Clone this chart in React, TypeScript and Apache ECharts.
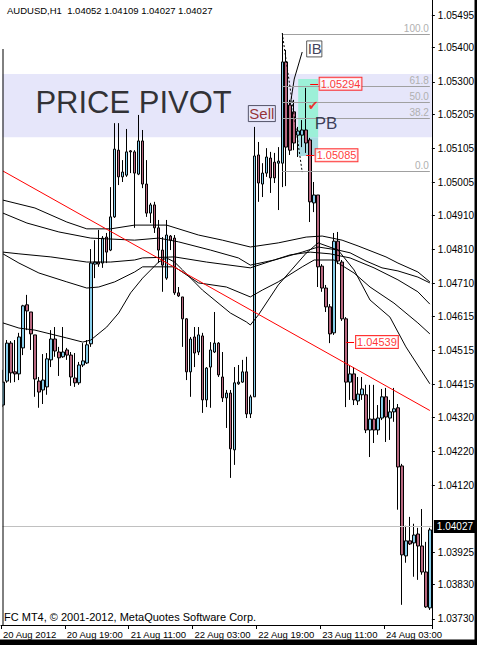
import React, { useEffect, useRef } from "react";
import * as echarts from "echarts";

const FONT = "'Liberation Sans', Arial, sans-serif";

const headerText = "AUDUSD,H1  1.04052 1.04109 1.04027 1.04027";
const footerText = "FC MT4, \u00A9 2001-2012, MetaQuotes Software Corp.";

const opens = [
  1.04355, 1.04425, 1.04536, 1.04452, 1.04446, 1.04522, 1.04648, 1.04627, 1.0456, 1.04425,
  1.04399, 1.04408, 1.04487, 1.04548, 1.0451, 1.04496, 1.04516, 1.04501, 1.04434, 1.0442,
  1.04472, 1.04478, 1.04534, 1.04767, 1.04773, 1.0477, 1.04846, 1.04808, 1.04905, 1.051,
  1.05022, 1.05027, 1.05098, 1.05095, 1.0503, 1.05127, 1.05001, 1.04916, 1.0494, 1.04873,
  1.04808, 1.04726, 1.04849, 1.04843, 1.04683, 1.04671, 1.04607, 1.04452, 1.04554, 1.0451,
  1.04557, 1.0437, 1.04466, 1.0451, 1.04536, 1.04437, 1.04376, 1.0439, 1.04224, 1.04417,
  1.04422, 1.04452, 1.04329, 1.04379, 1.05086, 1.05001, 1.05033, 1.05077, 1.05065, 1.05062,
  1.05062, 1.05358, 1.05232, 1.05212, 1.05144, 1.05144, 1.05159, 1.0513, 1.04946, 1.04969,
  1.04761, 1.04697, 1.04642, 1.04566, 1.04834, 1.04773, 1.04607, 1.04422, 1.04446, 1.04367,
  1.04385, 1.04385, 1.04282, 1.04314, 1.04282, 1.04317, 1.04379, 1.04317, 1.04335, 1.04347,
  1.04177, 1.03914, 1.03958, 1.03952, 1.03978, 1.03943, 1.03867, 1.03762,
];
const closes = [
  1.04422, 1.04536, 1.04449, 1.04446, 1.04554, 1.04645, 1.0463, 1.04563, 1.04431, 1.04393,
  1.04428, 1.0449, 1.04548, 1.04513, 1.04493, 1.0451, 1.04501, 1.04437, 1.0442, 1.04472,
  1.04484, 1.04531, 1.0477, 1.04773, 1.04767, 1.04843, 1.04802, 1.04905, 1.05103, 1.05022,
  1.05036, 1.05095, 1.05095, 1.05033, 1.05127, 1.05001, 1.04916, 1.0494, 1.04873, 1.04808,
  1.04764, 1.04852, 1.04837, 1.04683, 1.04674, 1.04607, 1.04452, 1.04548, 1.04507, 1.0456,
  1.0437, 1.04463, 1.04516, 1.04536, 1.04443, 1.04376, 1.0439, 1.04227, 1.0442, 1.04422,
  1.04452, 1.04329, 1.04379, 1.05083, 1.05004, 1.05033, 1.0508, 1.05019, 1.05019, 1.05068,
  1.05358, 1.05109, 1.051, 1.05121, 1.05156, 1.05159, 1.05121, 1.04949, 1.04969, 1.04759,
  1.04697, 1.04642, 1.04563, 1.04834, 1.04776, 1.04607, 1.04422, 1.04446, 1.0437, 1.04387,
  1.04402, 1.04282, 1.04314, 1.04282, 1.04317, 1.04379, 1.0432, 1.04335, 1.04344, 1.04174,
  1.03917, 1.03958, 1.03949, 1.03975, 1.03943, 1.03867, 1.03765, 1.0399,
];
const lows = [
  1.04349, 1.0442, 1.0442, 1.04422, 1.04428, 1.04501, 1.04574, 1.04516, 1.04379, 1.04347,
  1.04358, 1.04385, 1.04466, 1.04496, 1.0444, 1.04493, 1.04487, 1.04411, 1.04408, 1.04414,
  1.04466, 1.04475, 1.04525, 1.04726, 1.04759, 1.04756, 1.0477, 1.04805, 1.04902, 1.04998,
  1.05007, 1.05022, 1.05033, 1.04873, 1.05027, 1.04989, 1.04905, 1.04887, 1.04858, 1.0477,
  1.04686, 1.04721, 1.04808, 1.04677, 1.04671, 1.04525, 1.04428, 1.04379, 1.04466, 1.04501,
  1.04332, 1.04349, 1.04347, 1.04507, 1.04437, 1.04364, 1.04288, 1.04142, 1.0418, 1.04414,
  1.0442, 1.04317, 1.04317, 1.04379, 1.04949, 1.04963, 1.05022, 1.04975, 1.05004, 1.04925,
  1.04992, 1.04995, 1.05086, 1.051, 1.0508, 1.05109, 1.05092, 1.0489, 1.04919, 1.047,
  1.04686, 1.04627, 1.04536, 1.0456, 1.04767, 1.04601, 1.04349, 1.0437, 1.04355, 1.04355,
  1.0437, 1.04273, 1.04203, 1.04244, 1.04268, 1.04311, 1.04247, 1.04253, 1.04306, 1.04049,
  1.03771, 1.03894, 1.03946, 1.03853, 1.03844, 1.03859, 1.03762, 1.03756,
];
const highs = [
  1.04458, 1.04545, 1.04542, 1.04545, 1.04566, 1.04648, 1.04677, 1.04627, 1.0456, 1.04437,
  1.04504, 1.04507, 1.04574, 1.04583, 1.04525, 1.04583, 1.04522, 1.0451, 1.04507, 1.04481,
  1.04536, 1.04545, 1.04811, 1.04837, 1.04867, 1.04849, 1.04858, 1.04992, 1.05179, 1.05179,
  1.05071, 1.05162, 1.051, 1.051, 1.05203, 1.05159, 1.05071, 1.04946, 1.04949, 1.04896,
  1.04846, 1.04896, 1.04852, 1.04852, 1.047, 1.04671, 1.04609, 1.04554, 1.04583, 1.04583,
  1.04566, 1.04466, 1.04539, 1.04627, 1.04539, 1.0451, 1.04399, 1.04399, 1.04466, 1.04472,
  1.04487, 1.04496, 1.04385, 1.05168, 1.05124, 1.05062, 1.05106, 1.05095, 1.05092, 1.05109,
  1.05442, 1.05393, 1.05247, 1.05247, 1.05168, 1.05188, 1.05282, 1.05136, 1.05007, 1.04969,
  1.04767, 1.04706, 1.0465, 1.04858, 1.04861, 1.04779, 1.04612, 1.04472, 1.04466, 1.04437,
  1.04437, 1.04414, 1.04414, 1.04414, 1.04355, 1.04402, 1.04405, 1.0437, 1.04405, 1.04358,
  1.04183, 1.04002, 1.04028, 1.04008, 1.03996, 1.04051, 1.03955, 1.03996,
];

// Moving averages: [bar index, price] read at sampled bars
const ma1 = [[0,1.04954],[8,1.04931],[16,1.0489],[21,1.0487],[27,1.0487],[33,1.04881],[41,1.04881],[49,1.04852],[55,1.04837],[62,1.04817],[69,1.04829],[76,1.04846],[80,1.04849],[85,1.04837],[89,1.0482],[96,1.04788],[99,1.0477],[104,1.04744],[107,1.04715]];
const ma2 = [[0,1.04916],[6,1.04887],[14,1.04861],[22,1.04843],[33,1.04837],[39,1.04843],[44,1.04832],[52,1.04808],[59,1.04785],[62,1.04764],[68,1.04779],[75,1.04802],[79,1.04817],[84,1.04808],[87,1.048],[91,1.04776],[95,1.04756],[99,1.04747],[104,1.04729],[107,1.04712]];
const ma3 = [[0,1.04802],[4,1.04797],[12,1.04788],[21,1.04773],[27,1.04773],[33,1.04779],[35,1.04785],[43,1.04788],[51,1.04773],[62,1.04756],[68,1.04779],[72,1.04794],[77,1.04802],[82,1.04797],[87,1.04785],[93,1.04756],[99,1.04721],[104,1.04686],[107,1.0465]];
const ma4 = [[0,1.04797],[4,1.0477],[9,1.04741],[16,1.04715],[21,1.04697],[24,1.047],[28,1.04715],[33,1.04744],[35,1.04759],[43,1.04759],[49,1.04712],[56,1.047],[62,1.04671],[65,1.04691],[69,1.04715],[75,1.04759],[78,1.04779],[83,1.04779],[84,1.0477],[88,1.04741],[92,1.047],[98,1.04653],[104,1.04595],[107,1.04563]];
const ma5 = [[0,1.04595],[4,1.0458],[8,1.04574],[16,1.04551],[20,1.04539],[22,1.04545],[26,1.04583],[29,1.04624],[32,1.04683],[35,1.04726],[39,1.04773],[41,1.04785],[43,1.04773],[45,1.0475],[50,1.04691],[57,1.04624],[61,1.04598],[62,1.04589],[64,1.04618],[69,1.04706],[76,1.04799],[79,1.04829],[84,1.04808],[88,1.0475],[92,1.04662],[97,1.04612],[101,1.04525],[107,1.04417]];

const trendLine = [[0, 1.05039], [107, 1.04339]];
const zigzag = [[72, 1.05232], [73, 1.05308], [75, 1.05387]];

const pivotBand = [1.05323, 1.05138];
const pbZoneTop = [74, 1.05308, 79, 1.05138];
const pbZoneBottom = [74, 1.05138, 79, 1.05083];

const fibStart = 70;
const fibLabels = ["100.0", "61.8", "50.0", "38.2", "0.0"];
const fibValues = [1.05439, 1.05286, 1.05239, 1.05192, 1.05039];
const fibDiagonal = [[70, 1.05442], [75, 1.05036]];

const priceMarks = [1.05294, 1.05085, 1.04539];
const priceMarkStart = [77, 76, 86];
const priceMarkEnd = [79, 78, 88];

const currentPrice = 1.04027;

const priceTicks = [
  1.05495, 1.054, 1.053, 1.05205, 1.05105, 1.05005, 1.0491, 1.0481, 1.0471,
  1.04615, 1.04515, 1.04415, 1.0432, 1.0422, 1.0412, 1.03925, 1.0383, 1.0373,
];
const timeTickIndex = [0, 16, 32, 48, 64, 80, 96];
const timeTickLabels = [
  "20 Aug 2012", "20 Aug 19:00", "21 Aug 11:00", "22 Aug 03:00",
  "22 Aug 19:00", "23 Aug 11:00", "24 Aug 03:00",
];

const categories = opens.map((_, i) => {
  const d = new Date(Date.UTC(2012, 7, 20, 3 + i));
  return `${d.getUTCDate()} Aug ${String(d.getUTCHours()).padStart(2, "0")}:00`;
});

function buildOption() {
  const candleData = opens.map((o, i) => [o, closes[i], lows[i], highs[i]]);
  const maLine = (data: number[][]) => ({
    type: "line",
    data,
    symbol: "none",
    silent: true,
    z: 3,
    lineStyle: { color: "#000", width: 1 },
  });

  const markLineData: any[] = [
    {
      yAxis: currentPrice,
      lineStyle: { color: "#c0c0c0", width: 1, type: "solid" },
      label: {
        show: true,
        position: "end",
        distance: 2,
        formatter: currentPrice.toFixed(5),
        color: "#fff",
        backgroundColor: "#000",
        padding: [2, 3, 1, 3],
        fontSize: 10,
        fontFamily: FONT,
      },
    },
  ];
  fibValues.forEach((v, i) => {
    markLineData.push([
      {
        coord: [fibStart, v],
        lineStyle: { color: "#a0a0a0", width: 1, type: "solid" },
        label: {
          show: true,
          position: "insideEndTop",
          distance: 1,
          formatter: fibLabels[i],
          color: "#b0b0b0",
          fontSize: 10,
          fontFamily: FONT,
        },
      },
      { coord: [categories.length - 1, v] },
    ]);
  });
  markLineData.push([
    { coord: fibDiagonal[0], lineStyle: { color: "#000", width: 1, type: [2, 2] } },
    { coord: fibDiagonal[1] },
  ]);
  priceMarks.forEach((p, i) => {
    markLineData.push([
      { coord: [priceMarkStart[i], p], lineStyle: { color: "#ff0000", width: 1, type: "solid" } },
      { coord: [priceMarkEnd[i], p] },
    ]);
  });

  const redBox = (p: number, idx: number, dist: number) => ({
    value: [idx, p],
    label: {
      show: true,
      position: "right",
      distance: dist,
      formatter: p.toFixed(5),
      color: "#ff0000",
      fontSize: 11,
      fontFamily: FONT,
      backgroundColor: "#fff",
      borderColor: "#ff0000",
      borderWidth: 1,
      padding: [1, 1, 0, 1],
    },
  });

  const labelData = [
    {
      value: [8, 1.05238],
      label: { show: true, position: "right", distance: 0, formatter: "PRICE PIVOT", fontSize: 31, color: "#000", fontFamily: FONT },
    },
    {
      value: [61, 1.05207],
      label: {
        show: true, position: "right", distance: 1.5, formatter: "Sell", fontSize: 15,
        color: "#800000", fontFamily: FONT, borderColor: "#2f2f45", borderWidth: 1, padding: [1, 1, 0, 1],
      },
    },
    {
      value: [76, 1.05396],
      label: {
        show: true, position: "right", distance: 0, formatter: "IB", fontSize: 15,
        color: "#101030", fontFamily: FONT, borderColor: "#333", borderWidth: 1, padding: [1, 0, 0, 1],
      },
    },
    {
      value: [78, 1.05179],
      label: { show: true, position: "right", distance: 0, formatter: "PB", fontSize: 17, color: "#101030", fontFamily: FONT },
    },
    {
      value: [78, 1.05232],
      label: {
        show: true, position: "inside", offset: [-1, 0], formatter: "\u2714", fontSize: 13,
        color: "#ff0000", fontFamily: "'DejaVu Sans', sans-serif",
      },
    },
    redBox(priceMarks[0], 79, 1),
    redBox(priceMarks[1], 78, 1),
    redBox(priceMarks[2], 88, 1.5),
  ];

  return {
    animation: false,
    backgroundColor: "#fff",
    title: [
      {
        text: headerText, left: 7, top: 5, padding: 0,
        textStyle: { fontSize: 9.5, fontWeight: "normal", color: "#000", fontFamily: FONT },
      },
      {
        text: footerText, left: 4, top: 611, padding: 0,
        textStyle: { fontSize: 11, fontWeight: "normal", color: "#000", fontFamily: FONT },
      },
    ],
    grid: { left: 1, right: 42, top: 0, bottom: 20, containLabel: false },
    xAxis: {
      type: "category",
      data: categories,
      boundaryGap: true,
      axisLine: { show: true, lineStyle: { color: "#000", width: 1 } },
      axisTick: {
        show: true, length: 4, lineStyle: { color: "#000" },
        interval: (index: number) => timeTickIndex.includes(index),
      },
      axisLabel: {
        show: true,
        interval: (index: number) => timeTickIndex.includes(index),
        formatter: (_v: string, index: number) => {
          const k = timeTickIndex.indexOf(index);
          return k >= 0 ? timeTickLabels[k] : "";
        },
        align: "left",
        margin: 4,
        fontSize: 9.5,
        color: "#000",
        fontFamily: FONT,
      },
      splitLine: { show: false },
    },
    yAxis: {
      type: "value",
      position: "right",
      min: 1.03712,
      max: 1.05539,
      axisLine: { show: true, lineStyle: { color: "#000", width: 1 } },
      axisTick: { show: true, length: 3, lineStyle: { color: "#000" }, customValues: priceTicks },
      axisLabel: {
        show: true, customValues: priceTicks, formatter: (v: number) => v.toFixed(5),
        margin: 6, fontSize: 10, color: "#000", fontFamily: FONT,
      },
      splitLine: { show: false },
    },
    series: [
      {
        type: "candlestick",
        data: candleData,
        barWidth: 3,
        z: 2,
        silent: true,
        itemStyle: {
          color: "#87ceeb",
          color0: "#b8677f",
          borderColor: "#000",
          borderColor0: "#000",
          borderWidth: 1,
        },
        markArea: {
          silent: true,
          label: { show: false },
          data: [
            [{ yAxis: pivotBand[0], itemStyle: { color: "#e6e6fa" } }, { yAxis: pivotBand[1] }],
            [
              { coord: [pbZoneTop[0], pbZoneTop[1]], itemStyle: { color: "#9cf0d8" } },
              { coord: [pbZoneTop[2], pbZoneTop[3]] },
            ],
            [
              { coord: [pbZoneBottom[0], pbZoneBottom[1]], itemStyle: { color: "#a8dce2" } },
              { coord: [pbZoneBottom[2], pbZoneBottom[3]] },
            ],
          ],
        },
        markLine: {
          silent: true,
          symbol: ["none", "none"],
          label: { show: false },
          data: markLineData,
        },
      },
      maLine(ma1),
      maLine(ma2),
      maLine(ma3),
      maLine(ma4),
      maLine(ma5),
      {
        type: "line",
        data: trendLine,
        symbol: "none",
        silent: true,
        z: 3,
        lineStyle: { color: "#ff0000", width: 1 },
      },
      {
        type: "line",
        data: zigzag,
        symbol: "rect",
        symbolSize: 5,
        showSymbol: true,
        silent: true,
        z: 4,
        lineStyle: { color: "#000", width: 1 },
        itemStyle: { color: "#fff", borderColor: "#000", borderWidth: 1 },
      },
      {
        type: "scatter",
        data: labelData,
        symbolSize: 1,
        silent: true,
        z: 6,
        itemStyle: { color: "rgba(0,0,0,0)" },
      },
    ],
    graphic: [
      { type: "rect", shape: { x: 0, y: 0, width: 2.5, height: 625 }, style: { fill: "#fff" }, z: 50, silent: true },
      { type: "line", shape: { x1: 3, y1: 49, x2: 3, y2: 625 }, style: { stroke: "#000", lineWidth: 1 }, z: 51, silent: true },
      { type: "rect", shape: { x: 474.5, y: 0, width: 3, height: 645 }, style: { fill: "#000" }, z: 51, silent: true },
      { type: "rect", shape: { x: 0, y: 639.5, width: 477, height: 6 }, style: { fill: "#000" }, z: 51, silent: true },
    ],
  };
}

export default function App() {
  const ref = useRef<HTMLDivElement>(null);
  useEffect(() => {
    if (!ref.current) return;
    const chart = echarts.init(ref.current, null, { renderer: "svg" });
    chart.setOption(buildOption() as any);
    return () => chart.dispose();
  }, []);
  return (
    <div
      ref={ref}
      style={{ position: "fixed", left: 0, top: 0, width: 477, height: 645, background: "#fff" }}
    />
  );
}
